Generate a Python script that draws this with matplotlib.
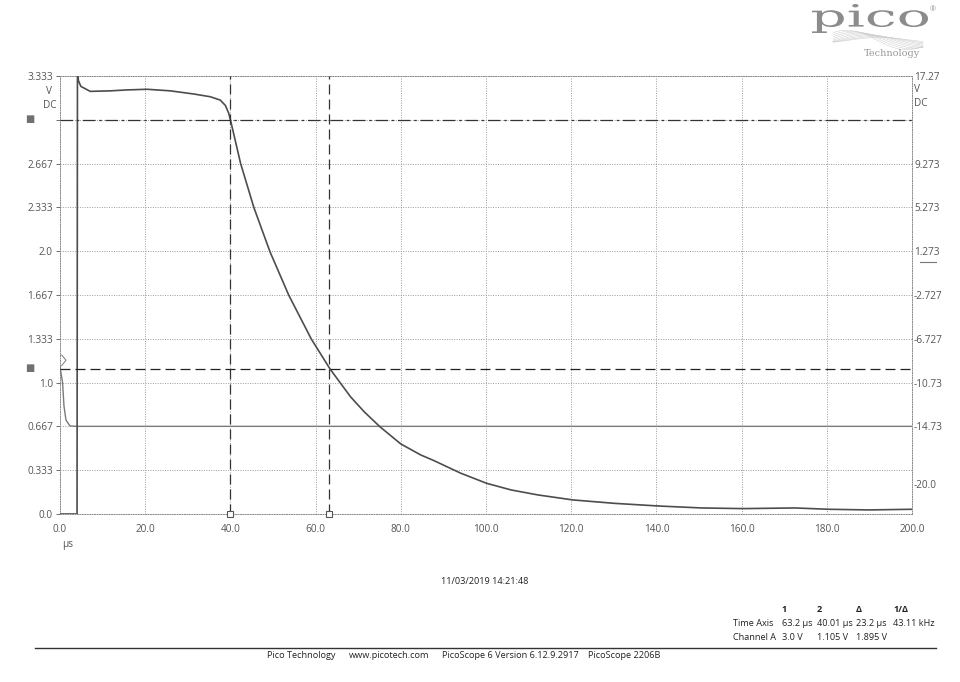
import numpy as np
import matplotlib
matplotlib.use("Agg")
import matplotlib.pyplot as plt
from matplotlib.lines import Line2D
from matplotlib.textpath import TextPath
from matplotlib.patches import PathPatch
from matplotlib.font_manager import FontProperties
from matplotlib.transforms import Affine2D

plt.rcParams['font.family'] = ['Open Sans', 'DejaVu Sans']

# channel A trace (time in us, volts)
chA_t = [0, 4.0, 4.1, 4.3, 4.9, 7.1, 11.8, 15.7, 20.4, 25.9, 31.4, 35.3, 37.6,
         38.8, 39.6, 40.0, 42.4, 45.5, 49.3, 53.7, 59.0, 63.4, 68.2, 71.4, 75.1,
         80.0, 84.7, 87.8, 94.1, 100.2, 105.9, 112.2, 120.4, 130.2, 140.4,
         150.6, 160.4, 172.5, 180.4, 189.8, 200.0]
chA_v = [0, 0, 3.45, 3.30, 3.254, 3.216, 3.22, 3.227, 3.232, 3.22, 3.196, 3.175,
         3.15, 3.11, 3.05, 3.0, 2.667, 2.333, 1.995, 1.665, 1.331, 1.103, 0.892,
         0.778, 0.664, 0.533, 0.449, 0.406, 0.31, 0.233, 0.183, 0.145, 0.107,
         0.081, 0.061, 0.046, 0.041, 0.046, 0.036, 0.031, 0.036]

# second (lighter) trace
chB_t = [0, 0.6, 0.94, 1.4, 2.35, 4.0, 200.0]
chB_v = [1.12, 1.0, 0.82, 0.715, 0.67, 0.667, 0.667]

# trigger marker
trig_t = [0.4, 1.4, 0.4]
trig_v = [1.21, 1.17, 1.13]

# cursors
cursor_t = [40.01, 63.2]
cursor_v = [3.0, 1.105]

x_ticks = [0, 20, 40, 60, 80, 100, 120, 140, 160, 180, 200]
left_ticks = [0.0, 0.333, 0.667, 1.0, 1.333, 1.667, 2.0, 2.333, 2.667, 3.0, 3.333]
left_labels = ['0.0', '0.333', '0.667', '1.0', '1.333', '1.667', '2.0', '2.333',
               '2.667', '', '3.333']
right_ticks = [17.27, 9.273, 5.273, 1.273, -2.727, -6.727, -10.73, -14.73, -20.0]
right_labels = ['17.27', '9.273', '5.273', '1.273', '-2.727', '-6.727', '-10.73',
                '-14.73', '-20.0']

table_head = ['1', '2', '\u0394', '1/\u0394']
row_time = ['63.2 \u00b5s', '40.01 \u00b5s', '23.2 \u00b5s', '43.11 kHz']
row_chan = ['3.0 V', '1.105 V', '1.895 V', '']
footer = ['Pico Technology', 'www.picotech.com', 'PicoScope 6 Version 6.12.9.2917',
          'PicoScope 2206B']

W, H = 960, 682


def fx(x):
    return x / W


def fy(y):
    return 1 - y / H


fig = plt.figure(figsize=(9.6, 6.82), dpi=100)
ax = fig.add_axes([fx(60), fy(514), 852 / W, 438 / H])
ax.set_xlim(0, 200)
ax.set_ylim(0, 3.333)

tick_col = '#555555'
txt_col = '#222222'
ax.set_xticks(x_ticks)
ax.set_xticklabels(['%.1f' % t for t in x_ticks])
ax.set_yticks(left_ticks)
ax.set_yticklabels(left_labels)
ax.tick_params(axis='both', labelsize=7.2, colors=tick_col, length=3, width=0.6,
               pad=2)
ax.tick_params(axis='x', length=0, pad=7)
ax.grid(True, color='#9a9a9a', linestyle=(0, (1, 1.5)), linewidth=0.7)
for s in ax.spines.values():
    s.set_linestyle((0, (1, 1.5)))
    s.set_color('#888888')
    s.set_linewidth(0.7)

ax2 = ax.twinx()
ax2.set_ylim(-22.73, 17.27)
ax2.set_yticks(right_ticks)
ax2.set_yticklabels(right_labels)
ax2.tick_params(axis='y', labelsize=7.2, colors=tick_col, length=0, pad=1.5)
for s in ax2.spines.values():
    s.set_visible(False)

# traces
ax.plot(chB_t, chB_v, color='#7a7a7a', linewidth=1.0, zorder=3)
ax.plot(chA_t, chA_v, color='#4d4d4d', linewidth=1.2, zorder=4)
ax.plot(trig_t, trig_v, color='#888888', linewidth=0.8, clip_on=False, zorder=6)

# cursors
ax.axhline(cursor_v[0], color='#333333', linewidth=0.9,
           linestyle=(0, (10, 3, 2, 3)), zorder=5)
ax.axhline(cursor_v[1], color='#222222', linewidth=0.9, linestyle=(0, (8, 4)), zorder=5)
for t in cursor_t:
    ax.axvline(t, color='#333333', linewidth=0.9, linestyle=(0, (8, 4)), zorder=5)
ax.plot(cursor_t, [0, 0], linestyle='none', marker='s', markersize=5,
        markerfacecolor='white', markeredgecolor='#555555', markeredgewidth=0.8,
        clip_on=False, zorder=6)

# cursor level markers at the left edge
for v in cursor_v:
    yy = ax.transData.transform((0, v))[1] / H
    fig.text(fx(30), yy, '\u25a0', color='#707070', fontsize=7, ha='center', va='center')

# channel B offset marker on right
fig.add_artist(Line2D([fx(920), fx(936)], [fy(262), fy(262)], color='#777777',
                      linewidth=0.8))

# units
fig.text(fx(49), fy(92), 'V', fontsize=7.2, color=tick_col, ha='center', va='center')
fig.text(fx(57), fy(106), 'DC', fontsize=7.2, color=tick_col, ha='right', va='center')
fig.text(fx(914), fy(89), 'V', fontsize=7.2, color=tick_col, ha='left', va='center')
fig.text(fx(914), fy(103), 'DC', fontsize=7.2, color=tick_col, ha='left', va='center')
fig.text(fx(62), fy(544), '\u00b5s', fontsize=7.2, color=tick_col, ha='left', va='center')

# logo: stretched serif "pico"
logo_col = '#8c8c8c'
tp = TextPath((0, 0), 'pico', size=10, prop=FontProperties(family='DejaVu Serif'))
ext = tp.get_extents()
sx = (fx(928) - fx(812)) / ext.width
sy = (fy(4) - fy(33)) / ext.height
tr = Affine2D().translate(-ext.x0, -ext.y0).scale(sx, sy).translate(fx(812), fy(33))
fig.add_artist(PathPatch(tr.transform_path(tp), facecolor=logo_col, edgecolor='none',
                         transform=fig.transFigure))
fig.text(fx(933), fy(10), '\u00ae', fontsize=5, color=logo_col, ha='center', va='center')
fig.text(fx(892), fy(54), 'Technology', fontsize=7, family='DejaVu Serif',
         color='#999999', ha='center', va='center')
# swoosh under the logo
wx = np.linspace(0, 1, 120)
for k in range(9):
    amp = (2.5 + 0.9 * k) / H
    ph = -0.9 + 0.22 * k
    wy = fy(40) + amp * np.sin(wx * 1.5 * np.pi + ph)
    fig.add_artist(Line2D(fx(833) + wx * (fx(923) - fx(833)), wy, color='#cccccc',
                          linewidth=0.35))

# date
fig.text(fx(485), fy(581), '11/03/2019 14:21:48', fontsize=6.6, color=txt_col,
         ha='center', va='center')

# measurement table
col_x = [782, 817, 856, 893]
for xp, txt in zip(col_x, table_head):
    fig.text(fx(xp), fy(610), txt, fontsize=6.6, fontweight='bold', color=txt_col,
             ha='left', va='center')
fig.text(fx(733), fy(624), 'Time Axis', fontsize=6.6, color=txt_col, ha='left', va='center')
fig.text(fx(733), fy(638), 'Channel A', fontsize=6.6, color=txt_col, ha='left', va='center')
for xp, a, b in zip(col_x, row_time, row_chan):
    fig.text(fx(xp), fy(624), a, fontsize=6.6, color=txt_col, ha='left', va='center')
    fig.text(fx(xp), fy(638), b, fontsize=6.6, color=txt_col, ha='left', va='center')

# footer
fig.add_artist(Line2D([fx(35), fx(936)], [fy(648), fy(648)], color='#333333',
                      linewidth=1.0))
for xp, txt in zip([267, 349, 442, 588], footer):
    fig.text(fx(xp), fy(656), txt, fontsize=6.6, color=txt_col, ha='left', va='center')

fig.savefig('out.png', dpi=100, facecolor='white')
